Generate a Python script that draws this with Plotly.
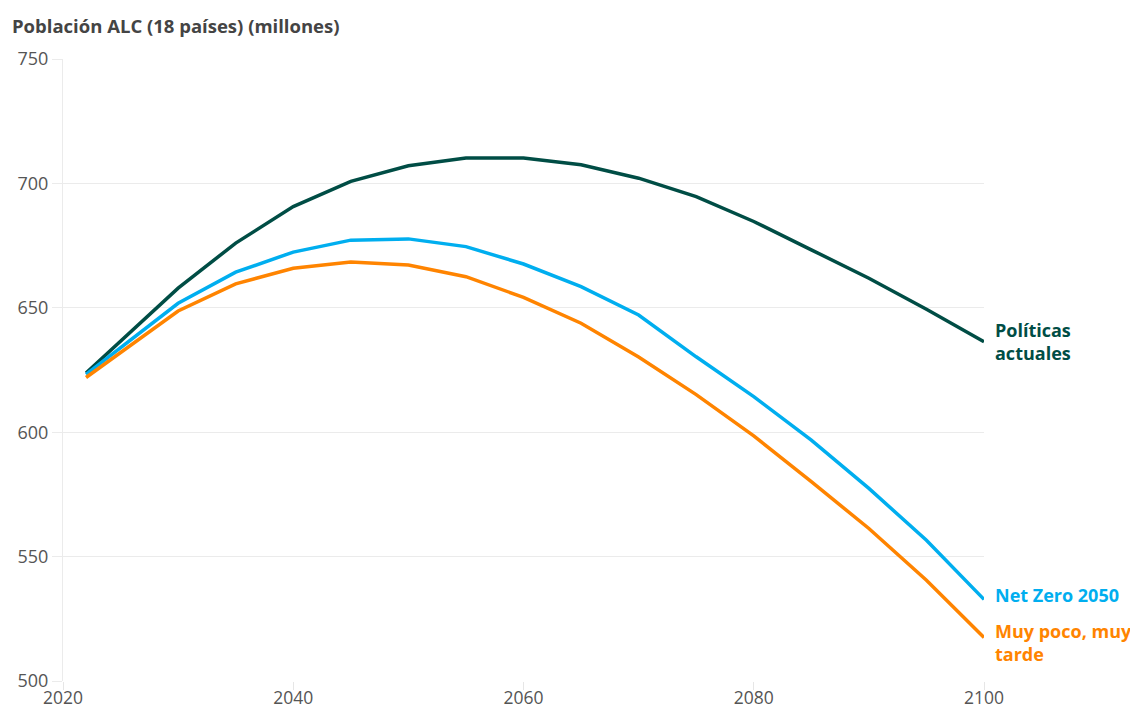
import plotly.graph_objects as go

years = [2022, 2030, 2035, 2040, 2045, 2050, 2055, 2060, 2065, 2070, 2075, 2080, 2085, 2090, 2095, 2100]
politicas = [623.8, 657.9, 676.0, 690.7, 700.8, 707.1, 710.2, 710.2, 707.5, 702.1, 694.7, 684.7, 673.3, 661.9, 649.4, 636.4]
net_zero = [623.2, 651.8, 664.3, 672.4, 677.2, 677.7, 674.6, 667.6, 658.5, 647.1, 630.3, 614.3, 596.8, 577.4, 556.6, 532.8]
muy_poco = [622.0, 648.7, 659.6, 665.9, 668.4, 667.2, 662.5, 654.2, 643.8, 630.2, 615.1, 598.5, 580.1, 561.3, 540.5, 517.5]

series_names = ["Políticas<br>actuales", "Net Zero 2050", "Muy poco, muy<br>tarde"]
series_values = [politicas, net_zero, muy_poco]
colors = ["#004d45", "#00aeef", "#ff8400"]
label_offsets = [0, 1.6, -2]

title_text = "Población ALC (18 países) (millones)"
x_ticks = [2020, 2040, 2060, 2080, 2100]
y_ticks = [500, 550, 600, 650, 700, 750]

fig = go.Figure()
for name, vals, c, off in zip(series_names, series_values, colors, label_offsets):
    fig.add_trace(go.Scatter(x=years, y=vals, mode="lines", name=name,
                             line=dict(color=c, width=3.5), hoverinfo="skip"))
    fig.add_annotation(x=years[-1], y=vals[-1] + off, text=f"<b>{name}</b>", showarrow=False,
                       xanchor="left", yanchor="middle", align="left", xshift=9,
                       font=dict(family="Open Sans", size=18, color=c))

fig.add_annotation(x=0, xref="paper", y=1, yref="paper", xanchor="left", yanchor="middle",
                   text=f"<b>{title_text}</b>", showarrow=False, xshift=-53, yshift=34,
                   font=dict(family="Open Sans", size=18.5, color="#444444"))

fig.update_layout(
    width=1130, height=702,
    margin=dict(l=55, r=154, t=51, b=29),
    plot_bgcolor="white", paper_bgcolor="white",
    showlegend=False,
    font=dict(family="Open Sans", size=18, color="#555555"),
    xaxis=dict(range=[2020, 2100], tickvals=x_ticks, showgrid=False, zeroline=False,
               ticks="outside", ticklen=8, tickcolor="#e6e6e6", showline=False,
               ticklabelstandoff=-7,
               automargin=False, tickfont=dict(size=17.5, color="#555555")),
    yaxis=dict(range=[500, 750], tickvals=y_ticks, showgrid=True, gridcolor="#ebebeb",
               gridwidth=1, zeroline=False, ticks="outside", ticklen=10, tickcolor="#ebebeb",
               showline=True, linecolor="#ebebeb", linewidth=1,
               automargin=False, tickfont=dict(size=18, color="#555555")),
)

fig.write_html("out.html")
